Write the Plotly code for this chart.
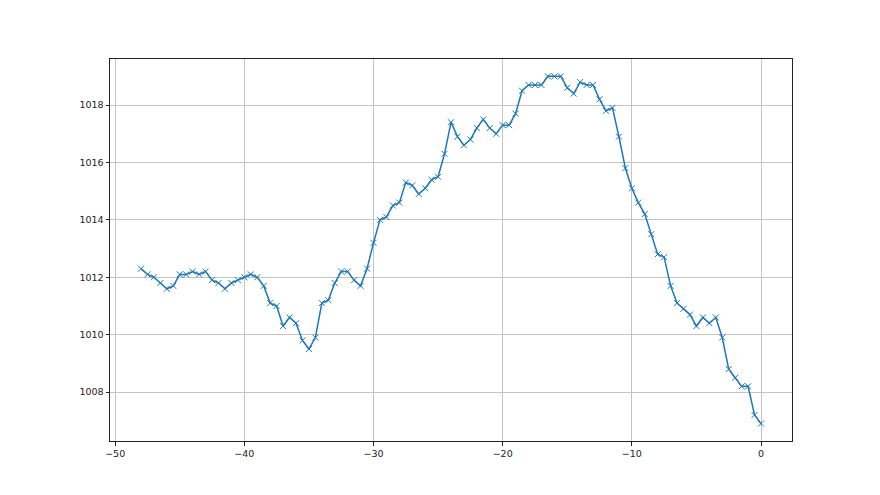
import plotly.graph_objects as go

hours = [-48, -47.5, -47, -46.5, -46, -45.5, -45, -44.5, -44, -43.5, -43, -42.5,
         -42, -41.5, -41, -40.5, -40, -39.5, -39, -38.5, -38, -37.5, -37, -36.5,
         -36, -35.5, -35, -34.5, -34, -33.5, -33, -32.5, -32, -31.5, -31, -30.5,
         -30, -29.5, -29, -28.5, -28, -27.5, -27, -26.5, -26, -25.5, -25, -24.5,
         -24, -23.5, -23, -22.5, -22, -21.5, -21, -20.5, -20, -19.5, -19, -18.5,
         -18, -17.5, -17, -16.5, -16, -15.5, -15, -14.5, -14, -13.5, -13, -12.5,
         -12, -11.5, -11, -10.5, -10, -9.5, -9, -8.5, -8, -7.5, -7, -6.5,
         -6, -5.5, -5, -4.5, -4, -3.5, -3, -2.5, -2, -1.5, -1, -0.5, 0]

pressure = [1012.3, 1012.1, 1012.0, 1011.8, 1011.6, 1011.7, 1012.1, 1012.1, 1012.2, 1012.1, 1012.2, 1011.9,
            1011.8, 1011.6, 1011.8, 1011.9, 1012.0, 1012.1, 1012.0, 1011.7, 1011.1, 1011.0, 1010.3, 1010.6,
            1010.4, 1009.8, 1009.5, 1009.9, 1011.1, 1011.2, 1011.8, 1012.2, 1012.2, 1011.9, 1011.7, 1012.3,
            1013.2, 1014.0, 1014.1, 1014.5, 1014.6, 1015.3, 1015.2, 1014.9, 1015.1, 1015.4, 1015.5, 1016.3,
            1017.4, 1016.9, 1016.6, 1016.8, 1017.2, 1017.5, 1017.2, 1017.0, 1017.3, 1017.3, 1017.7, 1018.5,
            1018.7, 1018.7, 1018.7, 1019.0, 1019.0, 1019.0, 1018.6, 1018.4, 1018.8, 1018.7, 1018.7, 1018.2,
            1017.8, 1017.9, 1016.9, 1015.8, 1015.1, 1014.6, 1014.2, 1013.5, 1012.8, 1012.7, 1011.7, 1011.1,
            1010.9, 1010.7, 1010.3, 1010.6, 1010.4, 1010.6, 1009.9, 1008.8, 1008.5, 1008.2, 1008.2, 1007.2,
            1006.9]

x_ticks = [-50, -40, -30, -20, -10, 0]
y_ticks = [1008, 1010, 1012, 1014, 1016, 1018]

fig = go.Figure()
fig.add_trace(go.Scatter(
    x=hours, y=pressure, mode="lines+markers",
    line=dict(color="#1f77b4", width=1.5),
    marker=dict(symbol="x-thin", size=6, line=dict(color="#1f77b4", width=1)),
    showlegend=False,
))

axis_common = dict(
    showline=True, linecolor="#222222", linewidth=1, mirror=True,
    ticks="outside", ticklen=3.5, tickwidth=0.8, tickcolor="#222222",
    showgrid=True, gridcolor="#c4c4c4", gridwidth=0.8, zeroline=False,
    tickfont=dict(family="DejaVu Sans", size=9.5, color="#222222"),
)

xmin, xmax = min(hours), max(hours)
ymin, ymax = min(pressure), max(pressure)
xpad = (xmax - xmin) * 0.05
ypad = (ymax - ymin) * 0.05

fig.update_layout(
    width=880, height=495,
    margin=dict(l=102, r=96, t=51, b=62),
    paper_bgcolor="white", plot_bgcolor="white",
    xaxis=dict(range=[xmin - xpad, xmax + xpad], tickvals=x_ticks, **axis_common),
    yaxis=dict(range=[ymin - ypad, ymax + ypad], tickvals=y_ticks, **axis_common),
)

fig.write_html("out.html")
